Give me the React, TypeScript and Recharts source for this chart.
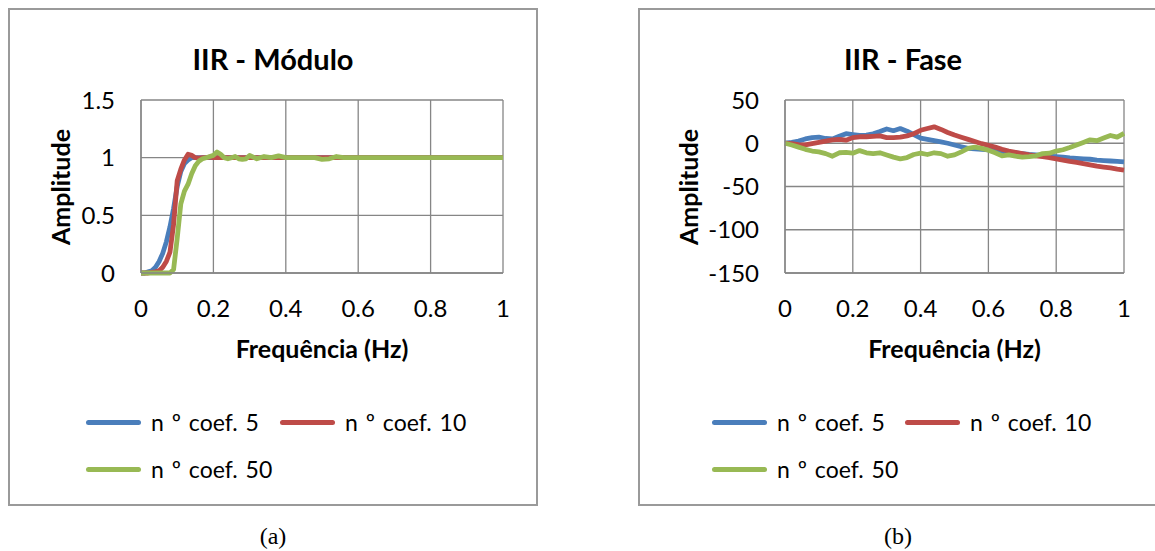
import { LineChart, Line, XAxis, YAxis, CartesianGrid } from 'recharts';

// IIR - Módulo: dense sampling near the transition band, coarser afterwards
const freqModulo = [
  0, 0.01, 0.02, 0.03, 0.04, 0.05, 0.06, 0.07, 0.08, 0.09, 0.1,
  0.11, 0.12, 0.13, 0.14, 0.15, 0.16, 0.17, 0.18, 0.19, 0.2,
  0.21, 0.22, 0.23, 0.24, 0.25, 0.26, 0.27, 0.28, 0.29, 0.3,
  0.32, 0.34, 0.36, 0.38, 0.4, 0.42, 0.44, 0.46, 0.48, 0.5,
  0.52, 0.54, 0.56, 0.58, 0.6, 0.62, 0.64, 0.66, 0.68, 0.7,
  0.72, 0.74, 0.76, 0.78, 0.8, 0.82, 0.84, 0.86, 0.88, 0.9,
  0.92, 0.94, 0.96, 0.98, 1,
];
const moduloCoef5 = [
  0, 0, 0.01, 0.02, 0.05, 0.1, 0.17, 0.27, 0.4, 0.56, 0.75,
  0.88, 0.95, 0.98, 1, 1, 1, 1, 1, 1, 1,
  1, 1, 1, 1, 1, 1, 1, 1, 1, 1,
  1, 1, 1, 1, 1, 1, 1, 1, 1, 1,
  1, 1, 1, 1, 1, 1, 1, 1, 1, 1,
  1, 1, 1, 1, 1, 1, 1, 1, 1, 1,
  1, 1, 1, 1, 1,
];
const moduloCoef10 = [
  0, 0, 0, 0.005, 0.01, 0.02, 0.05, 0.1, 0.18, 0.42, 0.8,
  0.9, 0.98, 1.03, 1.02, 1, 0.995, 1, 1, 1.005, 1,
  1, 1, 1, 1, 1, 1, 1, 1, 1, 1,
  1, 1, 1, 1, 1, 1, 1, 1, 1, 1,
  1, 1, 1, 1, 1, 1, 1, 1, 1, 1,
  1, 1, 1, 1, 1, 1, 1, 1, 1, 1,
  1, 1, 1, 1, 1,
];
const moduloCoef50 = [
  0, 0, 0, 0, 0, 0, 0, 0, 0, 0.03, 0.3,
  0.6, 0.71, 0.77, 0.86, 0.93, 0.97, 0.99, 1, 1.01, 1.02,
  1.05, 1.03, 1, 0.99, 1, 1.01, 0.99, 0.985, 0.99, 1.02,
  0.99, 1.01, 1, 1.015, 1, 1, 1, 1, 1, 0.985,
  0.99, 1.01, 1, 1, 1, 1, 1, 1, 1, 1,
  1, 1, 1, 1, 1, 1, 1, 1, 1, 1,
  1, 1, 1, 1, 1,
];

// IIR - Fase
const freqFase = [
  0, 0.02, 0.04, 0.06, 0.08, 0.1, 0.12, 0.14, 0.16, 0.18, 0.2,
  0.22, 0.24, 0.26, 0.28, 0.3, 0.32, 0.34, 0.36, 0.38, 0.4,
  0.42, 0.44, 0.46, 0.48, 0.5, 0.52, 0.54, 0.56, 0.58, 0.6,
  0.62, 0.64, 0.66, 0.68, 0.7, 0.72, 0.74, 0.76, 0.78, 0.8,
  0.82, 0.84, 0.86, 0.88, 0.9, 0.92, 0.94, 0.96, 0.98, 1,
];
const faseCoef5 = [
  0, 1, 2.5, 5, 6.5, 7, 5.5, 5, 8, 11, 10,
  9, 9.5, 11, 13.5, 16.5, 14.5, 17, 14, 10, 6,
  4.5, 3, 1.5, 0, -2, -4, -6, -6.5, -7, -7.5,
  -8.5, -9.5, -10.5, -11, -12, -13, -13.5, -14, -15, -15.5,
  -16, -17, -17.5, -18, -18.5, -19.5, -20, -20.5, -21, -21.5,
];
const faseCoef10 = [
  0, -0.5, -1.5, -2, -0.5, 1, 2.5, 4, 4.5, 3.5, 6.5,
  7.5, 7.5, 8, 8.5, 6.5, 6.5, 7, 8.5, 11, 15,
  17, 19, 16, 12.5, 9.5, 7, 4.5, 2, -0.5, -2.5,
  -4.5, -7, -9, -10.5, -12, -13.5, -14.5, -15.5, -16.5, -18,
  -19.5, -21, -22, -23.5, -25, -26.5, -27.5, -28.5, -30, -31,
];
const faseCoef50 = [
  0, -2, -4.5, -7, -9, -10, -12, -15, -11, -10.5, -11.5,
  -8.5, -11, -12, -11, -13.5, -16, -18, -16.5, -13, -11.5,
  -13, -11, -12, -15, -13.5, -10, -6, -4.5, -6, -8,
  -11, -14.5, -13.5, -15, -16, -15.5, -14.5, -12, -11.5, -9,
  -7.5, -5, -2, 1, 4, 3, 6, 9, 7, 11.5,
];

const seriesNames = ['n º coef. 5', 'n º coef. 10', 'n º coef. 50'];
const seriesColors = ['#4A7EBB', '#BE4B48', '#98B954'];
const freqTicks = [0, 0.2, 0.4, 0.6, 0.8, 1];
const moduloTicks = [0, 0.5, 1, 1.5];
const faseTicks = [-150, -100, -50, 0, 50];

const FONT = 'Lato, "Open Sans", sans-serif';
const GRID = '#868686';

const moduloData = freqModulo.map((f, i) => ({
  f,
  c5: moduloCoef5[i],
  c10: moduloCoef10[i],
  c50: moduloCoef50[i],
}));
const faseData = freqFase.map((f, i) => ({
  f,
  c5: faseCoef5[i],
  c10: faseCoef10[i],
  c50: faseCoef50[i],
}));

type PanelProps = {
  left: number;
  title: string;
  data: { f: number; c5: number; c10: number; c50: number }[];
  yDomain: [number, number];
  yTicks: number[];
  yAxisWidth: number;
  rightMargin: number;
  yTitleX: number;
  legendX: number;
  legendGap: number;
  caption: string;
  captionX: number;
};

function LegendRow({ x, y, color, label }: { x: number; y: number; color: string; label: string }) {
  return (
    <div style={{ position: 'absolute', left: x, top: y - 15, height: 30, display: 'flex', alignItems: 'center' }}>
      <div style={{ width: 55, height: 5, borderRadius: 3, background: color }} />
      <span
        style={{
          marginLeft: 10,
          fontFamily: FONT,
          fontSize: 23,
          wordSpacing: 2,
          color: '#000',
          whiteSpace: 'nowrap',
        }}
      >
        {label}
      </span>
    </div>
  );
}

function Panel(p: PanelProps) {
  const W = 530;
  const H = 498;
  const plotLeft = p.left + p.yAxisWidth;
  const plotRight = p.left + W - p.rightMargin;
  const keys = ['c5', 'c10', 'c50'];
  return (
    <>
      <div
        style={{
          position: 'absolute',
          left: p.left,
          top: 8,
          width: W,
          height: H,
          border: '2px solid #9a9a9a',
          boxSizing: 'border-box',
          background: '#fff',
        }}
      />
      <div style={{ position: 'absolute', left: p.left, top: 8 }}>
        <LineChart width={W} height={H} data={p.data} margin={{ top: 92, right: p.rightMargin, bottom: 193, left: 0 }}>
          <CartesianGrid stroke={GRID} strokeWidth={1.3} />
          <XAxis
            type="number"
            dataKey="f"
            domain={[0, 1]}
            ticks={freqTicks}
            height={40}
            axisLine={{ stroke: GRID, strokeWidth: 1.3 }}
            tickLine={false}
            tickSize={0}
            tickMargin={27}
            tick={{ fill: '#000', fontFamily: FONT, fontSize: 24 }}
          />
          <YAxis
            type="number"
            domain={p.yDomain}
            ticks={p.yTicks}
            width={p.yAxisWidth}
            axisLine={{ stroke: GRID, strokeWidth: 1.3 }}
            tickLine={false}
            tickSize={0}
            tickMargin={26}
            tick={{ fill: '#000', fontFamily: FONT, fontSize: 24 }}
          />
          {keys.map((k, i) => (
            <Line
              key={k}
              type="linear"
              dataKey={k}
              stroke={seriesColors[i]}
              strokeWidth={4.8}
              strokeLinejoin="round"
              dot={false}
              isAnimationActive={false}
            />
          ))}
        </LineChart>
      </div>
      <div
        style={{
          position: 'absolute',
          left: p.left + W / 2,
          top: 58,
          transform: 'translate(-50%, -50%)',
          fontFamily: FONT,
          fontWeight: 700,
          fontSize: 29,
          whiteSpace: 'nowrap',
        }}
      >
        {p.title}
      </div>
      <div
        style={{
          position: 'absolute',
          left: (plotLeft + plotRight) / 2,
          top: 348,
          transform: 'translate(-50%, -50%)',
          fontFamily: FONT,
          fontWeight: 700,
          fontSize: 25,
          whiteSpace: 'nowrap',
        }}
      >
        Frequência (Hz)
      </div>
      <div
        style={{
          position: 'absolute',
          left: p.yTitleX,
          top: 187,
          transform: 'translate(-50%, -50%) rotate(-90deg)',
          fontFamily: FONT,
          fontWeight: 700,
          fontSize: 25,
          whiteSpace: 'nowrap',
        }}
      >
        Amplitude
      </div>
      <LegendRow x={p.legendX} y={422} color={seriesColors[0]} label={seriesNames[0]} />
      <LegendRow x={p.legendX + p.legendGap} y={422} color={seriesColors[1]} label={seriesNames[1]} />
      <LegendRow x={p.legendX} y={469} color={seriesColors[2]} label={seriesNames[2]} />
      <div
        style={{
          position: 'absolute',
          left: p.captionX,
          top: 536,
          transform: 'translate(-50%, -50%)',
          fontFamily: '"Liberation Serif", "Times New Roman", serif',
          fontSize: 24,
        }}
      >
        {p.caption}
      </div>
    </>
  );
}

export default function App() {
  return (
    <div
      style={{
        position: 'absolute',
        left: 0,
        top: 0,
        width: 1155,
        height: 551,
        overflow: 'hidden',
        background: '#fff',
      }}
    >
      <Panel
        left={8}
        title="IIR - Módulo"
        data={moduloData}
        yDomain={[0, 1.5]}
        yTicks={moduloTicks}
        yAxisWidth={133}
        rightMargin={35}
        yTitleX={60}
        legendX={86}
        legendGap={194}
        caption="(a)"
        captionX={273}
      />
      <Panel
        left={638}
        title="IIR - Fase"
        data={faseData}
        yDomain={[-150, 50]}
        yTicks={faseTicks}
        yAxisWidth={147}
        rightMargin={44}
        yTitleX={688}
        legendX={712}
        legendGap={193}
        caption="(b)"
        captionX={898}
      />
    </div>
  );
}
